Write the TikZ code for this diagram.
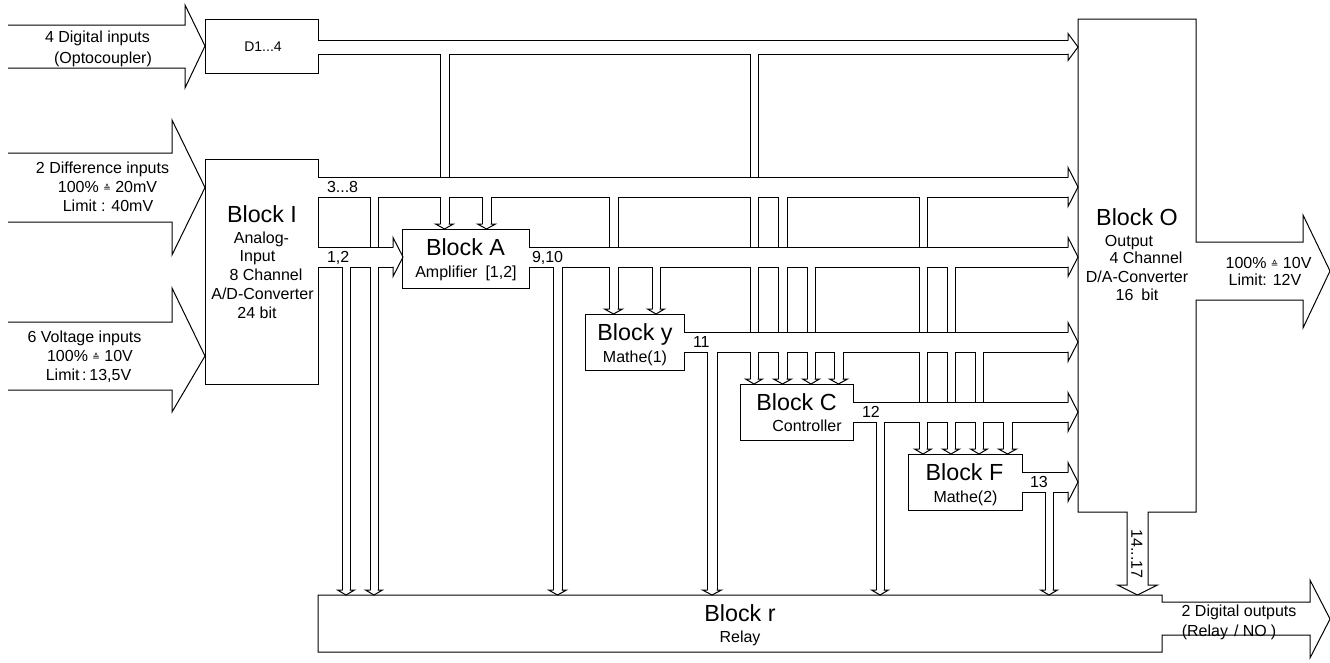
\documentclass[tikz,border=0pt]{standalone}
\usepackage{fontspec}
\setmainfont{Liberation Sans}
\newfontfamily\symfont{DejaVu Sans}
\newcommand\corr{{\symfont\fontsize{9}{9}\selectfont\raisebox{1pt}{≙}}}
\begin{document}
\begin{tikzpicture}[x=1pt,y=-1pt,
  ln/.style={line width=1pt,line join=miter,miter limit=20},
  blk/.style={draw,fill=white,line width=1pt,inner sep=0pt,outer sep=0pt},
  txt/.style={inner sep=0pt,outer sep=0pt,font=\fontsize{16}{18}\selectfont,text height=11.5pt,text depth=0pt},
  smalltxt/.style={txt,font=\fontsize{14}{16}\selectfont,text height=10pt},
  big/.style={inner sep=0pt,outer sep=0pt,font=\fontsize{23.3}{26}\selectfont,text height=16.7pt,text depth=0pt}]
\useasboundingbox (0,0) rectangle (1330,662);

% Block O with its output arrows
\draw[ln,fill=white] (1078,19) -- (1196,19) -- (1196,242) -- (1303,242) -- (1303,215) -- (1330,271) -- (1303,328) -- (1303,300) -- (1196,300) -- (1196,512) -- (1148,512) -- (1148,585) -- (1157.5,585) -- (1137.5,595) -- (1117.5,585) -- (1127,585) -- (1127,512) -- (1078,512) -- cycle;
% Block r with its output arrow
\draw[ln,fill=white] (318,595) -- (1162,595) -- (1162,602) -- (1310,602) -- (1310,580) -- (1330,619) -- (1310,658) -- (1310,635) -- (1162,635) -- (1162,652) -- (318,652) -- cycle;

% blocks
\node[blk,minimum width=113pt,minimum height=54pt] (D) at (261.5,46) {};
\node[blk,minimum width=113pt,minimum height=225pt] (I) at (261.5,271.5) {};
\node[blk,minimum width=127pt,minimum height=59pt] (A) at (465.5,258.5) {};
\node[blk,minimum width=99pt,minimum height=56pt] (Y) at (634.5,342) {};
\node[blk,minimum width=113pt,minimum height=56pt] (C) at (796.5,412) {};
\node[blk,minimum width=114pt,minimum height=56pt] (F) at (965,482) {};

% input arrows
\draw[ln] (8,25) -- (185,25) -- (185,5) -- (D.west) -- (185,88) -- (185,68) -- (8,68);
\draw[ln] (8,153) -- (172,153) -- (172,120) -- (205,187.5) -- (172,255) -- (172,222) -- (8,222);
\draw[ln] (8,322) -- (172,322) -- (172,288) -- (205,356) -- (172,412) -- (172,390) -- (8,390);

% vertical branches
\foreach \xa/\xb/\ya/\yb in {440/449/47/224, 750/758/47/379, 370/378/187/590, 482/491/187/224, 609/618/187/309, 778/787/187/379, 919/927/187/449, 342/350/257/590, 553/562/257/590, 652/660/257/309, 807/815/257/379, 947/955/257/449, 707/717/342/590, 834/843/342/379, 975/983/342/449, 876/884/412/590, 1003/1012/412/449, 1045/1053/482/590}{
  \pgfmathsetmacro\bc{(\xa+\xb)/2}
  \pgfmathsetmacro\bwo{\xb-\xa+1}
  \pgfmathsetmacro\bwi{\xb-\xa-1}
  \draw[line width=\bwo pt] (\bc,\ya) -- (\bc,\yb);
  \draw[white,line width=\bwi pt] (\bc,\ya) -- (\bc,\yb);
  \draw[ln] (\xa,\yb-0.5) -- (\xa,\yb) -- (\xa-4.5,\yb) -- (\bc,\yb+5) -- (\xb+4.5,\yb) -- (\xb,\yb) -- (\xb,\yb-0.5);
}

% horizontal buses
\foreach \xa/\xb/\ya/\yb/\hd in {318/1068/40/54/6.5, 318/1068/177/197/9.5, 318/393/247/267/9.5, 529/1068/247/267/9.5, 684/1068/332/352/9.5, 853/1068/402/422/9.5, 1022/1068/472/492/9.5}{
  \pgfmathsetmacro\bc{(\ya+\yb)/2}
  \pgfmathsetmacro\bwo{\yb-\ya+1}
  \pgfmathsetmacro\bwi{\yb-\ya-1}
  \draw[line width=\bwo pt] (\xa,\bc) -- (\xb,\bc);
  \draw[white,line width=\bwi pt] (\xa-1.5,\bc) -- (\xb,\bc);
  \draw[ln] (\xb-0.5,\ya) -- (\xb,\ya) -- (\xb,\ya-\hd) -- (\xb+10,\bc) -- (\xb,\yb+\hd) -- (\xb,\yb) -- (\xb-0.5,\yb);
}

% openings where branches leave a bus downwards
\foreach \xa/\xb/\y in {440/449/54, 750/758/54, 440/449/197, 750/758/197, 750/758/267, 750/758/352, 370/378/197, 370/378/267, 482/491/197, 609/618/197, 609/618/267, 778/787/197, 778/787/267, 778/787/352, 919/927/197, 919/927/267, 919/927/352, 919/927/422, 342/350/267, 553/562/267, 652/660/267, 807/815/267, 807/815/352, 947/955/267, 947/955/352, 947/955/422, 707/717/352, 834/843/352, 975/983/352, 975/983/422, 876/884/422, 1003/1012/422, 1045/1053/492}
  \fill[white] (\xa+0.5,\y-0.8) rectangle (\xb-0.5,\y+0.8);

% texts
\node[smalltxt] (tD) at (263,46) {D1...4};
\node[big] (tI) at (262,214) {Block I};
\node[txt] (tI1) at (261.5,238) {Analog-};
\node[txt] (tI2) at (257.5,256) {Input};
\node[txt] (tI3) at (266,275) {8 Channel};
\node[txt] (tI4) at (262.5,294) {A/D-Converter};
\node[txt] (tI5) at (257,313) {24 bit};
\node[big] (tA) at (465.5,247) {Block A};
\node[txt] (tA1) at (466,272) {Amplifier\hspace{8pt}[1,2]};
\node[big] (tY) at (635,332) {Block y};
\node[txt] (tY1) at (635,357) {Mathe(1)};
\node[big] (tC) at (796.5,402) {Block C};
\node[txt] (tC1) at (807,426) {Controller};
\node[big] (tF) at (964.5,472) {Block F};
\node[txt] (tF1) at (965.5,497) {Mathe(2)};
\node[big] (tO) at (1137,217) {Block O};
\node[txt] (tO1) at (1129,241) {Output};
\node[txt] (tO2) at (1146,258) {4 Channel};
\node[txt] (tO3) at (1137,277) {D/A-Converter};
\node[txt] (tO4) at (1137,295) {16\hspace{8pt}bit};
\node[big] (tR) at (740,613) {Block r};
\node[txt] (tR1) at (740,637) {Relay};

\node[txt] (in1a) at (97.5,37) {4 Digital inputs};
\node[txt] (in1b) at (103,58) {(Optocoupler)};
\node[txt] (in2a) at (102.5,168) {2 Difference inputs};
\node[txt] (in2b) at (107.5,187) {100\% \corr\ 20mV};
\node[txt] (in2c) at (108,206) {Limit : 40mV};
\node[txt] (in3a) at (84.5,337) {6 Voltage inputs};
\node[txt] (in3b) at (90,356) {100\% \corr\ 10V};
\node[txt] (in3c) at (88.5,375) {Limit\,:\,13,5V};
\node[txt] (out1a) at (1268.5,263) {100\% \corr\ 10V};
\node[txt] (out1b) at (1265,280) {Limit: 12V};
\node[txt] (out2a) at (1239,611) {2 Digital outputs};
\node[txt] (out2b) at (1229,631) {(Relay\hspace{6pt}/ NO\hspace{4pt})};

\node[txt,anchor=west] (l38) at (327,187) {3...8};
\node[txt,anchor=west] (l12) at (327,257) {1,2};
\node[txt,anchor=west] (l910) at (532,257) {9,10};
\node[txt,anchor=west] (l11) at (693,342) {11};
\node[txt,anchor=west] (l12c) at (862,412) {12};
\node[txt,anchor=west] (l13) at (1030,482) {13};
\node[txt,rotate=-90] (l1417) at (1137,554) {14...17};
\end{tikzpicture}
\end{document}
